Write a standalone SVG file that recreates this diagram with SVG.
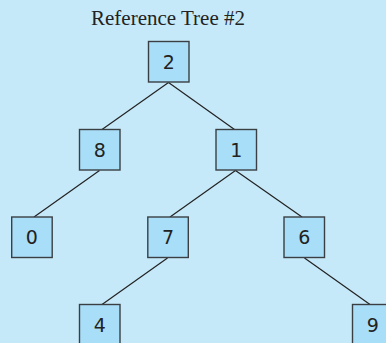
<svg xmlns="http://www.w3.org/2000/svg" width="386" height="343" viewBox="0 0 386 343">
<style>
.bg{fill:#c6e9f9}
.box{fill:#a9def8;stroke:#3a3f44;stroke-width:1.4}
.lbl{font-family:"DejaVu Sans","Liberation Sans",sans-serif;font-size:19px;fill:#222;text-anchor:middle}
.edge{stroke:#222;stroke-width:1.2;fill:none}
.title{font-family:"Liberation Serif","Times New Roman",serif;font-size:21px;fill:#222;text-anchor:middle}
</style>
<rect class="bg" x="0" y="0" width="386" height="343"/>
<text class="title" x="168" y="25">Reference Tree #2</text>
<g id="connectors">
<line class="edge" x1="168.5" y1="82.5" x2="102" y2="129.5"/>
<line class="edge" x1="168.5" y1="82.5" x2="234.5" y2="129.5"/>
<line class="edge" x1="99.5" y1="170.5" x2="34" y2="217"/>
<line class="edge" x1="235.5" y1="170.5" x2="170" y2="217"/>
<line class="edge" x1="235.5" y1="170.5" x2="302" y2="217"/>
<line class="edge" x1="167.5" y1="258" x2="102" y2="304.5"/>
<line class="edge" x1="304.5" y1="258" x2="370" y2="304.5"/>
</g>
<g id="n2"><rect class="box" x="148.5" y="41.5" width="40.5" height="40.5"/><text class="lbl" x="168.7" y="68.8">2</text></g>
<g id="n8"><rect class="box" x="79.5" y="129.5" width="40.5" height="40.5"/><text class="lbl" x="99.7" y="156.8">8</text></g>
<g id="n1"><rect class="box" x="216" y="129.5" width="40.5" height="40.5"/><text class="lbl" x="236.2" y="156.8">1</text></g>
<g id="n0"><rect class="box" x="11.7" y="217" width="40.5" height="40.5"/><text class="lbl" x="31.9" y="244.3">0</text></g>
<g id="n7"><rect class="box" x="147.8" y="217" width="40.5" height="40.5"/><text class="lbl" x="168" y="244.3">7</text></g>
<g id="n6"><rect class="box" x="284" y="217" width="40.5" height="40.5"/><text class="lbl" x="304.2" y="244.3">6</text></g>
<g id="n4"><rect class="box" x="79.5" y="304.5" width="40.5" height="40.5"/><text class="lbl" x="99.7" y="331.8">4</text></g>
<g id="n9"><rect class="box" x="352.5" y="304.5" width="40.5" height="40.5"/><text class="lbl" x="372.7" y="331.8">9</text></g>
</svg>
